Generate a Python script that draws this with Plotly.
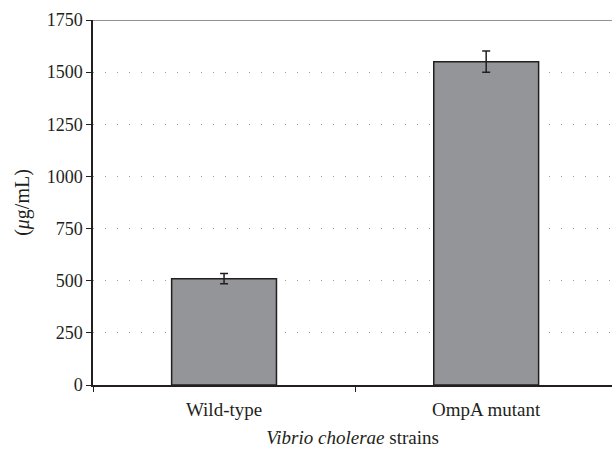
import plotly.graph_objects as go

categories = ["Wild-type", "OmpA mutant"]
values = [510, 1550]
errors = [24, 51]
y_ticks = [0, 250, 500, 750, 1000, 1250, 1500, 1750]

FONT = "Liberation Serif"
DARK = "#231f20"

fig = go.Figure()
fig.add_trace(go.Bar(
    x=categories, y=values, width=0.4,
    marker=dict(color="#939598", line=dict(color=DARK, width=1.5)),
    error_y=dict(type="data", array=errors, visible=True, color=DARK, thickness=1.5, width=4),
    showlegend=False,
))

fig.add_shape(type="line", xref="paper", yref="y", x0=0, x1=1, y0=1750, y1=1750,
              line=dict(color="#6d6e71", width=1.5))

fig.update_layout(
    width=612, height=453,
    margin=dict(l=93, r=0, t=20, b=68),
    plot_bgcolor="white", paper_bgcolor="white",
    font=dict(family=FONT, size=18, color=DARK),
    bargap=0.6,
)
fig.update_xaxes(
    range=[-0.5, 1.48],
    showline=True, linecolor=DARK, linewidth=1.5,
    ticks="outside", tickson="boundaries", ticklen=5, tickcolor=DARK, tickwidth=1,
    ticklabelstandoff=6,
    showgrid=False,
    title=dict(text="<i>Vibrio cholerae</i> strains", font=dict(size=19), standoff=12),
    tickfont=dict(size=19),
)
fig.update_yaxes(
    range=[0, 1750], tickvals=y_ticks,
    showline=True, linecolor=DARK, linewidth=1.5,
    ticks="outside", ticklen=5, tickcolor=DARK, tickwidth=1,
    showgrid=True, gridcolor="#939598", gridwidth=1, griddash="1px,11px",
    zeroline=False,
    title=dict(text="(<i>μ</i>g/mL)", font=dict(size=20), standoff=12),
    tickfont=dict(size=18),
)

fig.write_html("out.html")
